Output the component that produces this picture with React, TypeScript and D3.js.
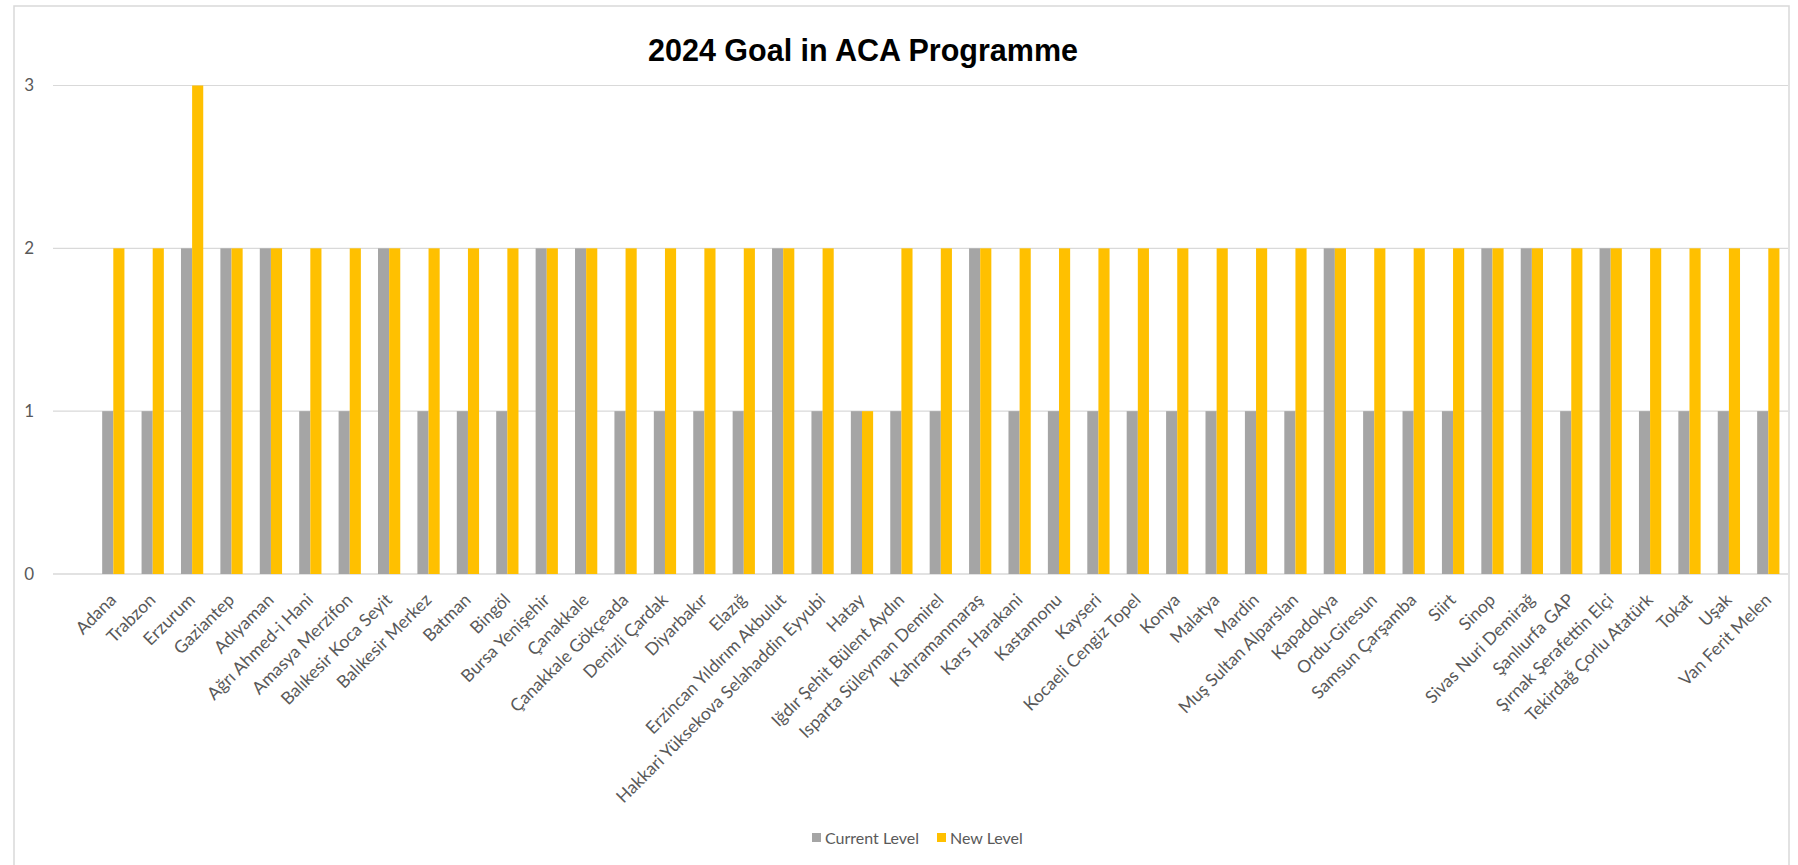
import React from "react";
import * as d3 from "d3";

const categories = [
  "Adana", "Trabzon", "Erzurum", "Gaziantep", "Adıyaman", "Ağrı Ahmed-i Hani",
  "Amasya Merzifon", "Balıkesir Koca Seyit", "Balıkesir Merkez", "Batman", "Bingöl",
  "Bursa Yenişehir", "Çanakkale", "Çanakkale Gökçeada", "Denizli Çardak", "Diyarbakır",
  "Elazığ", "Erzincan Yıldırım Akbulut", "Hakkari Yüksekova Selahaddin Eyyubi", "Hatay",
  "Iğdır Şehit Bülent Aydın", "Isparta Süleyman Demirel", "Kahramanmaraş", "Kars Harakani",
  "Kastamonu", "Kayseri", "Kocaeli Cengiz Topel", "Konya", "Malatya", "Mardin",
  "Muş Sultan Alparslan", "Kapadokya", "Ordu-Giresun", "Samsun Çarşamba", "Siirt", "Sinop",
  "Sivas Nuri Demirağ", "Şanlıurfa GAP", "Şırnak Şerafettin Elçi", "Tekirdağ Çorlu Atatürk",
  "Tokat", "Uşak", "Van Ferit Melen",
];

const currentLevel = [
  1, 1, 2, 2, 2, 1, 1, 2, 1, 1, 1, 2, 2, 1, 1, 1, 1, 2, 1, 1, 1, 1, 2, 1, 1, 1, 1, 1, 1, 1,
  1, 2, 1, 1, 1, 2, 2, 1, 2, 1, 1, 1, 1,
];

const newLevel = [
  2, 2, 3, 2, 2, 2, 2, 2, 2, 2, 2, 2, 2, 2, 2, 2, 2, 2, 2, 1, 2, 2, 2, 2, 2, 2, 2, 2, 2, 2,
  2, 2, 2, 2, 2, 2, 2, 2, 2, 2, 2, 2, 2,
];

const seriesNames = ["Current Level", "New Level"];
const seriesColors = ["#A5A5A5", "#FFC000"];
const yTicks = [0, 1, 2, 3];
const title = "2024 Goal in ACA Programme";

const W = 1798;
const H = 865;
const gridLeft = 53;
const plotLeft = 93.6;
const plotRight = 1788;
const plotTop = 85.5;
const plotBottom = 574;

export default function App() {
  const x = d3.scaleBand<string>().domain(categories).range([plotLeft, plotRight]).padding(0);
  const y = d3.scaleLinear().domain([0, 3]).range([plotBottom, plotTop]);
  const groupW = x.bandwidth() * 0.565;
  const xs = d3.scaleBand<string>().domain(seriesNames).range([0, groupW]).padding(0);
  const series = [currentLevel, newLevel];
  const labelFont = "Lato, 'Open Sans', sans-serif";

  const legendY = 838;
  const legendX = [812, 937];

  return (
    <div style={{ position: "absolute", left: 0, top: 0 }}>
      <svg width={W} height={H} style={{ display: "block", background: "#fff" }}>
        <rect x={14} y={6} width={1775} height={H + 10} fill="#fff" stroke="#D9D9D9" strokeWidth={1.5} />
        <text
          x={863}
          y={61}
          textAnchor="middle"
          fontFamily="'Liberation Sans', Arial, sans-serif"
          fontWeight="bold"
          fontSize={30.5}
          fill="#000"
        >
          {title}
        </text>
        {yTicks.map((t) => (
          <g key={t}>
            <line x1={gridLeft} x2={plotRight} y1={y(t)} y2={y(t)} stroke="#D9D9D9" strokeWidth={t === 0 ? 1.5 : 1.2} />
            <text x={34} y={y(t)} dy="0.35em" textAnchor="end" fontFamily={labelFont} fontSize={17} fill="#595959">
              {t}
            </text>
          </g>
        ))}
        {categories.map((c, i) => {
          const gx = (x(c) as number) + (x.bandwidth() - groupW) / 2;
          return (
            <g key={c}>
              {series.map((s, si) => (
                <rect
                  key={si}
                  x={gx + (xs(seriesNames[si]) as number)}
                  y={y(s[i])}
                  width={xs.bandwidth()}
                  height={plotBottom - y(s[i])}
                  fill={seriesColors[si]}
                />
              ))}
            </g>
          );
        })}
        {categories.map((c) => {
          const cx = (x(c) as number) + x.bandwidth() / 2;
          return (
            <text
              key={"l" + c}
              transform={`translate(${cx + 4},${plotBottom + 27}) rotate(-45)`}
              textAnchor="end"
              fontFamily={labelFont}
              fontSize={17.5}
              fill="#595959"
            >
              {c}
            </text>
          );
        })}
        {seriesNames.map((n, i) => (
          <g key={n}>
            <rect x={legendX[i]} y={legendY - 5} width={9} height={9} fill={seriesColors[i]} />
            <text x={legendX[i] + 13} y={legendY} dy="0.35em" fontFamily={labelFont} fontSize={16} fill="#595959">
              {n}
            </text>
          </g>
        ))}
      </svg>
    </div>
  );
}
